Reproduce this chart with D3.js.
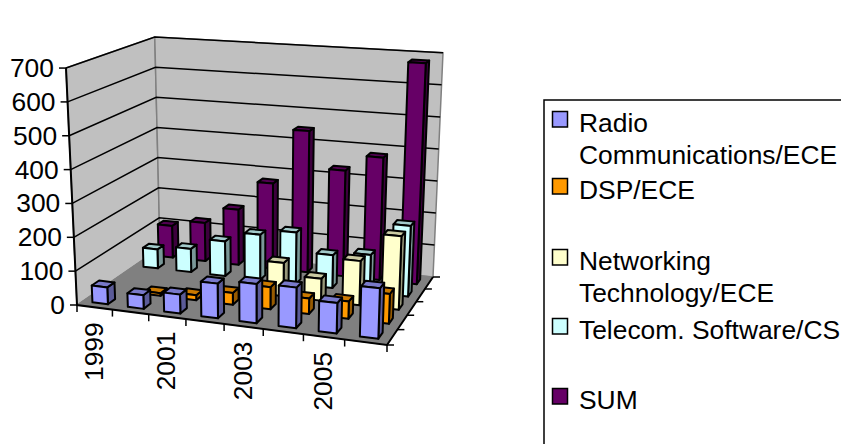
<!DOCTYPE html>
<html>
<head>
<meta charset="utf-8">
<script src="https://cdn.jsdelivr.net/npm/d3@7"></script>
<style>
html, body { margin: 0; padding: 0; background: #fff; }
svg { display: block; font-family: "Liberation Sans", Arial, sans-serif; fill: #000; }
</style>
</head>
<body>
<svg width="841" height="444"></svg>
<script>
const years = ["1999", "2000", "2001", "2002", "2003", "2004", "2005", "2006"]
const yearLabels = ["1999", "2001", "2003", "2005"]
const valueTicks = [0, 100, 200, 300, 400, 500, 600, 700]

const seriesNames = ["Radio Communications/ECE", "DSP/ECE", "Networking Technology/ECE", "Telecom. Software/CS", "SUM"]
const legendLines = [["Radio", "Communications/ECE"], ["DSP/ECE"], ["Networking", "Technology/ECE"], ["Telecom. Software/CS"], ["SUM"]]

const radio = [50, 40, 55, 100, 112, 115, 85, 140]
const dsp = [0, 8, 15, 35, 65, 45, 50, 85]
const networking = [0, 0, 0, 0, 100, 65, 130, 215]
const telecom = [60, 73, 108, 140, 158, 100, 113, 212]
const sum = [103, 123, 176, 270, 445, 330, 380, 680]
const seriesValues = [radio, dsp, networking, telecom, sum]

const frontColors = ["#9999ff", "#ff9900", "#ffffcc", "#ccffff", "#660066"]

const svg = d3.select("svg")

// floor corners as seen on screen, [0,1]x[0,1] is mapped through a homography
const floorFL = [77, 305], floorFR = [387, 345], floorBL = [160, 248], floorBR = [433, 277]
const vanish = [258, 4200]
const heightSlope = 0.456, heightOrigin = -214.6
const fontSize = 26.4

function floorMap(p0, p1, p3, p2) {
	// unit square to quad, p0 (0,0) p1 (1,0) p2 (1,1) p3 (0,1)
	const dx1 = p1[0] - p2[0], dx2 = p3[0] - p2[0], sx = p0[0] - p1[0] + p2[0] - p3[0]
	const dy1 = p1[1] - p2[1], dy2 = p3[1] - p2[1], sy = p0[1] - p1[1] + p2[1] - p3[1]
	const den = dx1 * dy2 - dx2 * dy1
	const g = (sx * dy2 - dx2 * sy) / den
	const h = (dx1 * sy - sx * dy1) / den
	const a = p1[0] - p0[0] + g * p1[0], b = p3[0] - p0[0] + h * p3[0]
	const d = p1[1] - p0[1] + g * p1[1], e = p3[1] - p0[1] + h * p3[1]
	return (u, w) => {
		const q = g * u + h * w + 1
		return [(a * u + b * w + p0[0]) / q, (d * u + e * w + p0[1]) / q]
	}
}
const floor = floorMap(floorFL, floorFR, floorBL, floorBR)

const valueScale = d3.scaleLinear().domain([0, 700]).range([0, 1])

// u along the years, w into the depth, v up
function project(u, w, v) {
	const p = floor(u, w)
	const h = heightSlope * (p[1] - heightOrigin) * valueScale(v)
	const t = h / (vanish[1] - p[1])
	return [p[0] - (vanish[0] - p[0]) * t, p[1] - h]
}

const xAxis = d3.scaleBand().domain(years).range([0, 1])
const xBar = d3.scaleBand().domain(years).range([0, 1]).paddingInner(0.56).paddingOuter(0.28)
const zBar = d3.scaleBand().domain(d3.range(5)).range([0, 1]).paddingInner(0.6).paddingOuter(0.3)

const line = d3.line()
const closed = pts => line(pts) + "Z"

// walls and floor
const chart = svg.append("g")
chart.append("path")
	.attr("d", closed([project(0, 0, 0), project(0, 0, 700), project(0, 1, 700), project(0, 1, 0)]))
	.attr("fill", "#c0c0c0").attr("stroke", "#808080").attr("stroke-width", 1.5)
chart.append("path")
	.attr("d", closed([project(0, 1, 0), project(0, 1, 700), project(1, 1, 700), project(1, 1, 0)]))
	.attr("fill", "#c0c0c0").attr("stroke", "#808080").attr("stroke-width", 1.5)
chart.append("path")
	.attr("d", closed([project(0, 0, 0), project(1, 0, 0), project(1, 1, 0), project(0, 1, 0)]))
	.attr("fill", "#808080").attr("stroke", "#808080")

// gridlines on both walls
chart.append("g").selectAll("path")
	.data(valueTicks.slice(1))
	.join("path")
	.attr("d", v => line([project(0, 0, v), project(0, 1, v), project(1, 1, v)]))
	.attr("fill", "none").attr("stroke", "#000").attr("stroke-width", 1.5)

// axes
chart.append("path")
	.attr("d", line([project(0, 0, 700), project(0, 0, 0), project(1, 0, 0), project(1, 1, 0)]))
	.attr("fill", "none").attr("stroke", "#000").attr("stroke-width", 2)

const valueTickG = chart.append("g").selectAll("g").data(valueTicks).join("g")
valueTickG.append("path")
	.attr("d", v => {
		const p = project(0, 0, v)
		return line([p, [p[0] - 7, p[1]]])
	})
	.attr("stroke", "#000").attr("stroke-width", 1.5)
valueTickG.append("text")
	.attr("x", v => project(0, 0, v)[0] - 12)
	.attr("y", v => project(0, 0, v)[1] + 9)
	.attr("text-anchor", "end")
	.attr("font-size", fontSize)
	.text(v => v)

chart.append("g").selectAll("path")
	.data(d3.range(9))
	.join("path")
	.attr("d", i => {
		const p = floor(i / 8, 0)
		return line([p, [p[0], p[1] + 7]])
	})
	.attr("stroke", "#000").attr("stroke-width", 1.5)

chart.append("g").selectAll("path")
	.data(d3.range(6))
	.join("path")
	.attr("d", i => {
		const p = floor(1, i / 5)
		return line([p, [p[0] + 7, p[1]]])
	})
	.attr("stroke", "#000").attr("stroke-width", 1.5)

chart.append("g").selectAll("text")
	.data(yearLabels)
	.join("text")
	.attr("transform", d => {
		const p = floor(xAxis(d) + xAxis.bandwidth() / 2, 0)
		return `translate(${p[0] + 8},${p[1] + 15}) rotate(-90)`
	})
	.attr("text-anchor", "end")
	.attr("font-size", fontSize)
	.text(d => d)

// bars, back row first
const bars = []
d3.range(4, -1, -1).forEach(s => {
	years.forEach((y, i) => {
		bars.push({ s, y, value: seriesValues[s][i] })
	})
})

const barG = chart.append("g").selectAll("g")
	.data(bars.filter(d => d.value > 0))
	.join("g")
	.attr("stroke", "#000").attr("stroke-width", 2).attr("stroke-linejoin", "round")

const shade = (c, k) => d3.rgb(c).darker(k).formatHex()

function corners(d) {
	const u0 = xBar(d.y), u1 = u0 + xBar.bandwidth()
	const w0 = zBar(d.s), w1 = w0 + zBar.bandwidth()
	return { u0, u1, w0, w1 }
}

barG.append("path") // side
	.attr("d", d => {
		const c = corners(d)
		return closed([project(c.u1, c.w0, 0), project(c.u1, c.w1, 0), project(c.u1, c.w1, d.value), project(c.u1, c.w0, d.value)])
	})
	.attr("fill", d => shade(frontColors[d.s], 1.45))
barG.append("path") // top
	.attr("d", d => {
		const c = corners(d)
		return closed([project(c.u0, c.w0, d.value), project(c.u1, c.w0, d.value), project(c.u1, c.w1, d.value), project(c.u0, c.w1, d.value)])
	})
	.attr("fill", d => shade(frontColors[d.s], 0.65))
barG.append("path") // front
	.attr("d", d => {
		const c = corners(d)
		return closed([project(c.u0, c.w0, 0), project(c.u1, c.w0, 0), project(c.u1, c.w0, d.value), project(c.u0, c.w0, d.value)])
	})
	.attr("fill", d => frontColors[d.s])

// legend, box runs past the window like the original
const legendRowY = [123, 190, 261, 330, 400]
const legend = svg.append("g")
legend.append("rect")
	.attr("x", 544).attr("y", 100).attr("width", 340).attr("height", 380)
	.attr("fill", "#fff").attr("stroke", "#000").attr("stroke-width", 1.5)

const legendRow = legend.selectAll("g.row")
	.data(seriesNames)
	.join("g")
	.attr("class", "row")
	.attr("transform", (d, i) => `translate(0,${legendRowY[i]})`)
legendRow.append("rect")
	.attr("x", 552.5).attr("y", -11.5).attr("width", 15).attr("height", 15.5)
	.attr("fill", (d, i) => frontColors[i])
	.attr("stroke", "#000").attr("stroke-width", 1.5)
legendRow.selectAll("text")
	.data((d, i) => legendLines[i])
	.join("text")
	.attr("x", 579)
	.attr("y", (d, i) => 9 + i * 32)
	.attr("font-size", fontSize)
	.text(d => d)
</script>
</body>
</html>
